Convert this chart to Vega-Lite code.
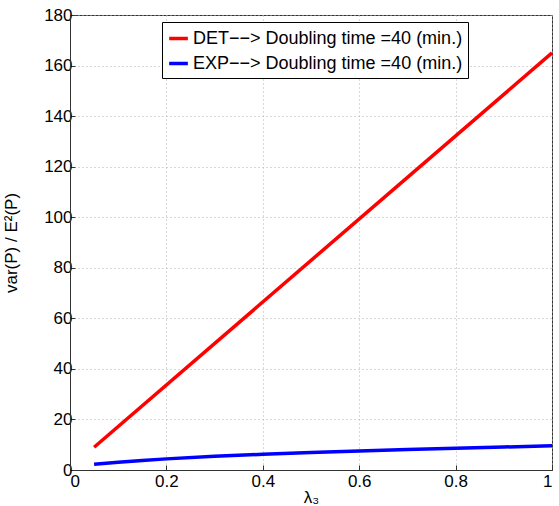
{
  "$schema": "https://vega.github.io/schema/vega-lite/v6.json",
  "width": 482,
  "height": 455,
  "autosize": {"type": "none"},
  "padding": {"left": 70, "top": 15, "right": 7, "bottom": 36},
  "background": "white",
  "config": {
    "font": "Liberation Sans",
    "view": {"stroke": "#333", "strokeWidth": 1}
  },
  "data": {
    "values": [
      {"x": 0.05, "y": 9.0, "s": "DET−−> Doubling time =40 (min.)"},
      {"x": 1.0, "y": 165.0, "s": "DET−−> Doubling time =40 (min.)"},
      {"x": 0.05, "y": 2.3, "s": "EXP−−> Doubling time =40 (min.)"},
      {"x": 0.1, "y": 3.1, "s": "EXP−−> Doubling time =40 (min.)"},
      {"x": 0.15, "y": 3.8, "s": "EXP−−> Doubling time =40 (min.)"},
      {"x": 0.2, "y": 4.4, "s": "EXP−−> Doubling time =40 (min.)"},
      {"x": 0.3, "y": 5.4, "s": "EXP−−> Doubling time =40 (min.)"},
      {"x": 0.4, "y": 6.2, "s": "EXP−−> Doubling time =40 (min.)"},
      {"x": 0.5, "y": 6.9, "s": "EXP−−> Doubling time =40 (min.)"},
      {"x": 0.6, "y": 7.5, "s": "EXP−−> Doubling time =40 (min.)"},
      {"x": 0.7, "y": 8.1, "s": "EXP−−> Doubling time =40 (min.)"},
      {"x": 0.8, "y": 8.6, "s": "EXP−−> Doubling time =40 (min.)"},
      {"x": 0.9, "y": 9.1, "s": "EXP−−> Doubling time =40 (min.)"},
      {"x": 1.0, "y": 9.6, "s": "EXP−−> Doubling time =40 (min.)"}
    ]
  },
  "layer": [
    {
      "mark": {"type": "line", "strokeWidth": 3.5},
      "encoding": {
        "x": {
          "field": "x", "type": "quantitative",
          "scale": {"domain": [0, 1], "nice": false, "zero": false},
          "axis": {
            "values": [0, 0.2, 0.4, 0.6, 0.8, 1],
            "labelExpr": "datum.value == 0 || datum.value == 1 ? format(datum.value, 'd') : format(datum.value, '.1f')",
            "title": "λ₃",
            "titleFont": "Liberation Sans", "titleFontSize": 17, "titleFontWeight": "normal",
            "titleColor": "black", "titleY": 19, "titleBaseline": "top",
            "labelFontSize": 17, "labelColor": "black", "labelPadding": 8,
            "domainColor": "#333", "tickColor": "#333", "tickSize": -5,
            "grid": true, "gridDash": [1, 3], "gridColor": "#b0b0b0", "gridOpacity": 1
          }
        },
        "y": {
          "field": "y", "type": "quantitative",
          "scale": {"domain": [0, 180], "nice": false},
          "axis": {
            "values": [0, 20, 40, 60, 80, 100, 120, 140, 160, 180],
            "title": "var(P) / E²(P)",
            "titleFont": "Liberation Sans", "titleFontSize": 17, "titleFontWeight": "normal",
            "titleColor": "black", "titleX": -50,
            "labelFontSize": 17, "labelColor": "black", "labelPadding": 3,
            "domainColor": "#333", "tickColor": "#333", "tickSize": -5,
            "grid": true, "gridDash": [1, 3], "gridColor": "#b0b0b0", "gridOpacity": 1
          }
        },
        "color": {
          "field": "s", "type": "nominal",
          "scale": {
            "domain": ["DET−−> Doubling time =40 (min.)", "EXP−−> Doubling time =40 (min.)"],
            "range": ["#ff0000", "#0000ff"]
          },
          "legend": {
            "title": null,
            "orient": "none",
            "legendX": 92,
            "legendY": 7,
            "direction": "vertical",
            "symbolType": "stroke",
            "symbolStrokeWidth": 3.5,
            "symbolSize": 350,
            "labelFontSize": 18,
            "labelColor": "black",
            "labelLimit": 400,
            "fillColor": "white",
            "strokeColor": "black",
            "padding": 5,
            "rowPadding": 4,
            "labelOffset": 3
          }
        }
      }
    }
  ]
}
